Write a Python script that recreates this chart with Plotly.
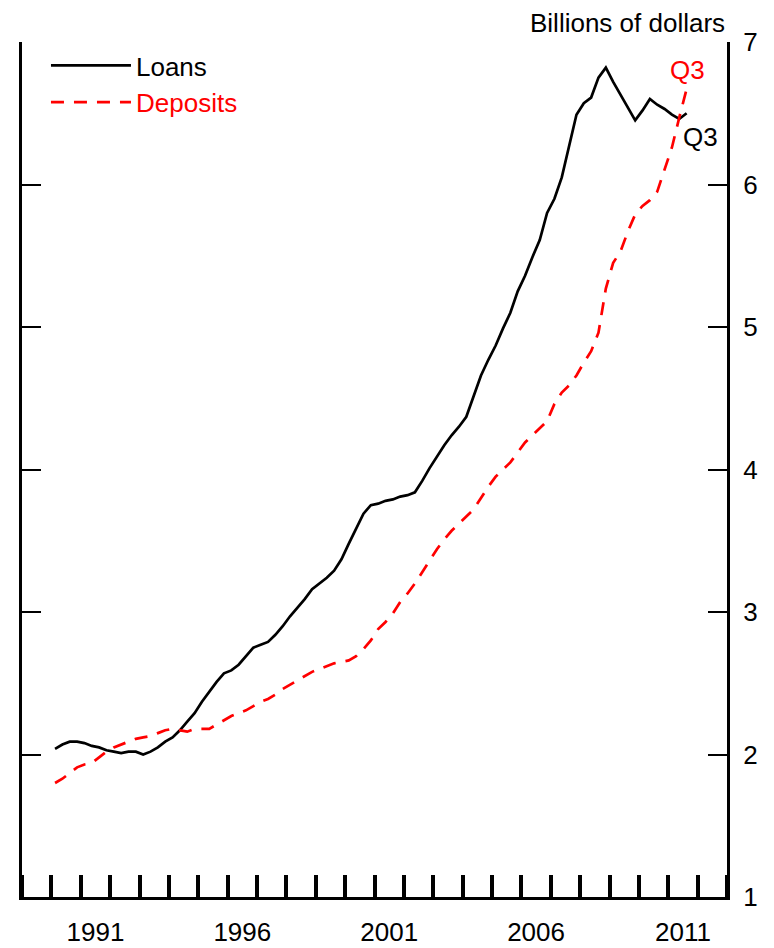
import plotly.graph_objects as go

# quarterly observations, 1990Q1 - 2011Q3
years = list(range(1990, 2012))
quarters = [f"{y}Q{q}" for y in years for q in range(1, 5)][:-1]

loans = [
    2.04, 2.07, 2.09, 2.09,  # 1990
    2.08, 2.06, 2.05, 2.03,
    2.02, 2.01, 2.02, 2.02,
    2.00, 2.02, 2.05, 2.09,
    2.12, 2.17, 2.23, 2.29,
    2.37, 2.44, 2.51, 2.57,  # 1995
    2.59, 2.63, 2.69, 2.75,
    2.77, 2.79, 2.84, 2.90,
    2.97, 3.03, 3.09, 3.16,
    3.20, 3.24, 3.29, 3.37,
    3.48, 3.58, 3.69, 3.75,  # 2000
    3.76, 3.78, 3.79, 3.81,
    3.82, 3.84, 3.92, 4.01,
    4.09, 4.17, 4.24, 4.30,
    4.37, 4.52, 4.66, 4.77,
    4.87, 4.99, 5.10, 5.25,  # 2005
    5.36, 5.49, 5.61, 5.80,
    5.90, 6.05, 6.27, 6.49,
    6.57, 6.61, 6.75, 6.82,
    6.72, 6.63, 6.55, 6.45,
    6.52, 6.60, 6.56, 6.53,  # 2010
    6.49, 6.46, 6.50,
]

deposits = [
    1.80, 1.83, 1.87, 1.91,  # 1990
    1.93, 1.94, 1.98, 2.02,
    2.05, 2.07, 2.09, 2.11,
    2.12, 2.13, 2.15, 2.17,
    2.18, 2.17, 2.16, 2.18,
    2.18, 2.18, 2.21, 2.24,  # 1995
    2.27, 2.29, 2.31, 2.34,
    2.37, 2.39, 2.42, 2.46,
    2.49, 2.52, 2.55, 2.58,
    2.60, 2.62, 2.64, 2.65,
    2.66, 2.69, 2.74, 2.80,  # 2000
    2.88, 2.93, 2.99, 3.07,
    3.13, 3.20, 3.28, 3.36,
    3.44, 3.51, 3.57, 3.62,
    3.67, 3.72, 3.80, 3.88,
    3.95, 4.00, 4.05, 4.12,  # 2005
    4.19, 4.24, 4.29, 4.34,
    4.46, 4.54, 4.59, 4.66,
    4.75, 4.83, 4.96, 5.27,
    5.45, 5.53, 5.67, 5.79,
    5.85, 5.89, 5.95, 6.10,  # 2010
    6.26, 6.47, 6.67,
]

label_years = [1991, 1996, 2001, 2006, 2011]
y_ticks = [1, 2, 3, 4, 5, 6, 7]

# quarter midpoints in fractional years
t = [int(s[:4]) + (int(s[-1]) - 0.5) / 4 for s in quarters]

FONT = "Liberation Sans, Arial, sans-serif"
RED = "#ff0000"

fig = go.Figure()
fig.add_trace(go.Scatter(x=t, y=loans, mode="lines", name="Loans",
                         line=dict(color="black", width=2.7)))
fig.add_trace(go.Scatter(x=t, y=deposits, mode="lines",
                         name=f'<span style="color:{RED}">Deposits</span>',
                         line=dict(color=RED, width=2.7, dash="13px,10px")))

fig.update_layout(
    width=766, height=940,
    margin=dict(l=14, r=47, t=34, b=51),
    paper_bgcolor="white", plot_bgcolor="white",
    font=dict(family=FONT, size=26, color="black"),
    showlegend=True,
    legend=dict(x=0.034, y=1.0, xanchor="left", yanchor="top",
                bgcolor="rgba(0,0,0,0)", itemwidth=80,
                font=dict(size=26)),
    xaxis=dict(
        range=[1989, 2013], showgrid=False, zeroline=False,
        automargin=False,
        showline=True, linecolor="black", linewidth=3,
        tickvals=[y + 0.5 for y in label_years],
        ticktext=[str(y) for y in label_years],
        ticks="", ticklabelstandoff=10,
        minor=dict(tick0=1989, dtick=1, ticks="inside", ticklen=22,
                   tickwidth=4, tickcolor="black"),
    ),
    yaxis=dict(
        range=[1, 7], side="right", showgrid=False, zeroline=False,
        automargin=False,
        tickvals=y_ticks, ticks="inside", ticklen=19, tickwidth=2,
        tickcolor="black", showline=True, linecolor="black", linewidth=3,
        mirror="ticks", ticklabelstandoff=8,
    ),
    # longer corner ticks at the top of the frame
    yaxis2=dict(
        range=[1, 7], overlaying="y", side="right", showgrid=False,
        zeroline=False, automargin=False, tickvals=[7], ticks="inside",
        ticklen=32, tickwidth=2, tickcolor="black", showticklabels=False,
        showline=False, mirror="ticks",
    ),
    annotations=[
        dict(text="Billions of dollars", xref="paper", yref="paper",
             x=1.0, y=1.0, xanchor="right", yanchor="bottom", yshift=2,
             showarrow=False, font=dict(size=26)),
        dict(text="Q3", x=t[-1], y=deposits[-1], xshift=1, yshift=19,
             showarrow=False, font=dict(size=26, color=RED)),
        dict(text="Q3", x=t[-1], y=loans[-1], xshift=14, yshift=-24,
             showarrow=False, font=dict(size=26, color="black")),
    ],
)

fig.write_html("out.html")
